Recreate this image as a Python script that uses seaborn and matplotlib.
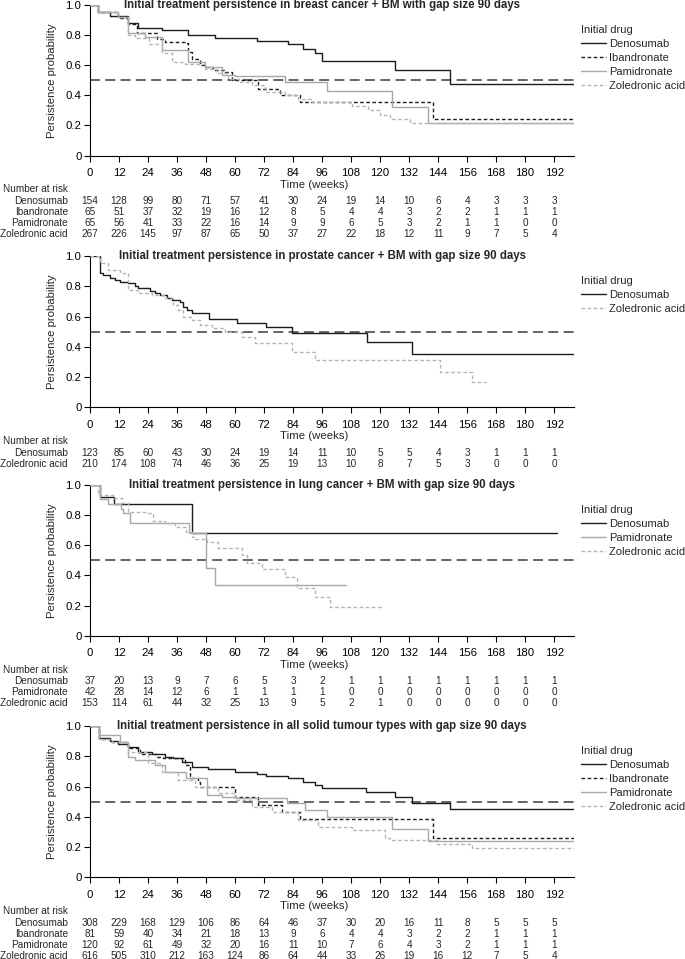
import numpy as np
import pandas as pd
import matplotlib
matplotlib.use("Agg")
import matplotlib.pyplot as plt
from matplotlib.lines import Line2D
from matplotlib.transforms import blended_transform_factory
import seaborn as sns

# ---- data ----
week_ticks = list(range(0, 193, 12))
x_end = 200

# breast cancer + BM
breast_deno_t = [0, 3.4, 8.3, 15.8, 20, 29.6, 40.7, 51.7, 68.9, 82, 88.2, 93, 95.8, 126, 149, 200]
breast_deno_s = [1.0, 0.955, 0.93, 0.878, 0.845, 0.833, 0.80, 0.778, 0.762, 0.738, 0.71, 0.678, 0.629, 0.571, 0.478, 0.478]
breast_iban_t = [0, 3.4, 11.7, 15.8, 19.3, 27.6, 31, 39.3, 40.7, 42, 45.5, 47.6, 51, 55.8, 58.6, 69.6, 78.6, 86.8, 142, 200]
breast_iban_s = [1.0, 0.956, 0.911, 0.873, 0.811, 0.771, 0.756, 0.749, 0.689, 0.644, 0.60, 0.589, 0.567, 0.556, 0.50, 0.444, 0.40, 0.356, 0.244, 0.244]
breast_pami_t = [0, 3.4, 11.7, 15.8, 22.7, 29.6, 40.7, 47.6, 54.5, 60, 80.6, 97.9, 124.8, 140, 200]
breast_pami_s = [1.0, 0.956, 0.92, 0.811, 0.789, 0.704, 0.622, 0.589, 0.533, 0.527, 0.489, 0.429, 0.322, 0.216, 0.216]
breast_zole_t = [0, 3.4, 11.7, 15.8, 18.6, 24.3, 29.6, 33.8, 39.3, 47.6, 52, 57.2, 62, 66.9, 72.4, 80.6, 86, 91.7, 108.2, 115, 120, 124, 132.3, 200]
breast_zole_s = [1.0, 0.956, 0.92, 0.80, 0.778, 0.744, 0.678, 0.622, 0.611, 0.578, 0.545, 0.511, 0.49, 0.467, 0.422, 0.40, 0.375, 0.356, 0.33, 0.30, 0.27, 0.24, 0.216, 0.216]

# prostate cancer + BM
prost_deno_t = [0, 4.1, 5.5, 8.3, 10.3, 12.4, 15.8, 18.6, 20, 24.8, 26.9, 29, 31.7, 34, 37.2, 38.6, 40, 42, 49.2, 60.7, 73, 83.4, 114.4, 133, 200]
prost_deno_s = [1.0, 0.885, 0.874, 0.857, 0.84, 0.83, 0.82, 0.80, 0.786, 0.769, 0.753, 0.742, 0.725, 0.709, 0.694, 0.665, 0.643, 0.621, 0.584, 0.555, 0.529, 0.489, 0.43, 0.35, 0.35]
prost_zole_t = [0, 4.1, 7.6, 12.4, 15.8, 20, 25.5, 31, 34.5, 36.5, 38.6, 42, 45.5, 50.3, 55.8, 62.7, 68.2, 83.4, 93, 144.7, 158, 164]
prost_zole_s = [1.0, 0.952, 0.907, 0.885, 0.775, 0.753, 0.742, 0.72, 0.676, 0.643, 0.599, 0.577, 0.544, 0.522, 0.496, 0.467, 0.423, 0.368, 0.312, 0.235, 0.165, 0.165]

# lung cancer + BM
lung_deno_t = [0, 4.1, 10, 42, 193]
lung_deno_s = [1.0, 0.922, 0.874, 0.679, 0.679]
lung_pami_t = [0, 4.1, 7.6, 12.8, 13.8, 16.5, 40.9, 47.8, 51.9, 106]
lung_pami_s = [1.0, 0.905, 0.874, 0.838, 0.812, 0.75, 0.68, 0.451, 0.336, 0.336]
lung_zole_t = [0, 3.4, 9.6, 13.1, 15.8, 23.4, 26.2, 31, 35.2, 39.9, 42, 43.4, 48.2, 53, 62.7, 64.8, 71, 80.6, 85.5, 93, 99.3, 121]
lung_zole_s = [1.0, 0.934, 0.912, 0.883, 0.823, 0.812, 0.763, 0.746, 0.723, 0.69, 0.657, 0.639, 0.624, 0.58, 0.535, 0.48, 0.44, 0.392, 0.314, 0.259, 0.192, 0.192]

# all solid tumour types
all_deno_t = [0, 3.7, 8.3, 11.7, 15.8, 20, 25.5, 31, 34.5, 37.9, 42, 48.9, 59.9, 68.9, 73, 82, 88.2, 93, 95.8, 114, 126, 133, 149, 200]
all_deno_s = [1.0, 0.923, 0.90, 0.879, 0.859, 0.826, 0.813, 0.797, 0.786, 0.764, 0.731, 0.714, 0.694, 0.681, 0.672, 0.654, 0.632, 0.61, 0.588, 0.562, 0.533, 0.493, 0.449, 0.449]
all_iban_t = [0, 3.7, 8.9, 15.8, 20.7, 27.6, 30.3, 39.3, 41.4, 44.8, 45.5, 59.9, 69.6, 79.3, 86.8, 142, 200]
all_iban_s = [1.0, 0.914, 0.892, 0.852, 0.813, 0.797, 0.786, 0.742, 0.654, 0.632, 0.599, 0.533, 0.478, 0.434, 0.385, 0.258, 0.258]
all_pami_t = [0, 3.7, 12.5, 15.8, 18.6, 26.9, 31, 39.9, 48.2, 54.5, 60.7, 81.3, 89, 98, 125, 140, 200]
all_pami_s = [1.0, 0.94, 0.896, 0.797, 0.775, 0.742, 0.698, 0.654, 0.544, 0.533, 0.526, 0.489, 0.445, 0.40, 0.319, 0.242, 0.242]
all_zole_t = [0, 3.7, 8.9, 15.8, 24.1, 29.6, 36.5, 43.4, 53, 59.9, 66.9, 75.1, 86.2, 94.4, 108.2, 122, 124, 143.4, 158, 200]
all_zole_s = [1.0, 0.914, 0.896, 0.83, 0.753, 0.698, 0.643, 0.60, 0.555, 0.511, 0.467, 0.434, 0.379, 0.335, 0.313, 0.262, 0.247, 0.218, 0.196, 0.196]

# numbers at risk (at 0, 12, ..., 192 weeks)
breast_risk_deno = [154, 128, 99, 80, 71, 57, 41, 30, 24, 19, 14, 10, 6, 4, 3, 3, 3]
breast_risk_iban = [65, 51, 37, 32, 19, 16, 12, 8, 5, 4, 4, 3, 2, 2, 1, 1, 1]
breast_risk_pami = [65, 56, 41, 33, 22, 16, 14, 9, 9, 6, 5, 3, 2, 1, 1, 0, 0]
breast_risk_zole = [267, 226, 145, 97, 87, 65, 50, 37, 27, 22, 18, 12, 11, 9, 7, 5, 4]
prost_risk_deno = [123, 85, 60, 43, 30, 24, 19, 14, 11, 10, 5, 5, 4, 3, 1, 1, 1]
prost_risk_zole = [210, 174, 108, 74, 46, 36, 25, 19, 13, 10, 8, 7, 5, 3, 0, 0, 0]
lung_risk_deno = [37, 20, 13, 9, 7, 6, 5, 3, 2, 1, 1, 1, 1, 1, 1, 1, 1]
lung_risk_pami = [42, 28, 14, 12, 6, 1, 1, 1, 1, 0, 0, 0, 0, 0, 0, 0, 0]
lung_risk_zole = [153, 114, 61, 44, 32, 25, 13, 9, 5, 2, 1, 0, 0, 0, 0, 0, 0]
all_risk_deno = [308, 229, 168, 129, 106, 86, 64, 46, 37, 30, 20, 16, 11, 8, 5, 5, 5]
all_risk_iban = [81, 59, 40, 34, 21, 18, 13, 9, 6, 4, 4, 3, 2, 2, 1, 1, 1]
all_risk_pami = [120, 92, 61, 49, 32, 20, 16, 11, 10, 7, 6, 4, 3, 2, 1, 1, 1]
all_risk_zole = [616, 505, 310, 212, 163, 124, 86, 64, 44, 33, 26, 19, 16, 12, 7, 5, 4]

titles = [
    "Initial treatment persistence in breast cancer + BM with gap size 90 days",
    "Initial treatment persistence in prostate cancer + BM with gap size 90 days",
    "Initial treatment persistence in lung cancer + BM with gap size 90 days",
    "Initial treatment persistence in all solid tumour types with gap size 90 days",
]

panels = [
    dict(title=titles[0], top=5, bottom=155.5,
         curves=[("Denosumab", breast_deno_t, breast_deno_s),
                 ("Ibandronate", breast_iban_t, breast_iban_s),
                 ("Pamidronate", breast_pami_t, breast_pami_s),
                 ("Zoledronic acid", breast_zole_t, breast_zole_s)],
         risk=[("Denosumab", breast_risk_deno), ("Ibandronate", breast_risk_iban),
               ("Pamidronate", breast_risk_pami), ("Zoledronic acid", breast_risk_zole)]),
    dict(title=titles[1], top=256, bottom=407.3,
         curves=[("Denosumab", prost_deno_t, prost_deno_s),
                 ("Zoledronic acid", prost_zole_t, prost_zole_s)],
         risk=[("Denosumab", prost_risk_deno), ("Zoledronic acid", prost_risk_zole)]),
    dict(title=titles[2], top=485, bottom=635.7,
         curves=[("Denosumab", lung_deno_t, lung_deno_s),
                 ("Pamidronate", lung_pami_t, lung_pami_s),
                 ("Zoledronic acid", lung_zole_t, lung_zole_s)],
         risk=[("Denosumab", lung_risk_deno), ("Pamidronate", lung_risk_pami),
               ("Zoledronic acid", lung_risk_zole)]),
    dict(title=titles[3], top=726, bottom=877.3,
         curves=[("Denosumab", all_deno_t, all_deno_s),
                 ("Ibandronate", all_iban_t, all_iban_s),
                 ("Pamidronate", all_pami_t, all_pami_s),
                 ("Zoledronic acid", all_zole_t, all_zole_s)],
         risk=[("Denosumab", all_risk_deno), ("Ibandronate", all_risk_iban),
               ("Pamidronate", all_risk_pami), ("Zoledronic acid", all_risk_zole)]),
]

# styles per drug
colors = {"Denosumab": "#1c1c1c", "Ibandronate": "#1c1c1c",
          "Pamidronate": "#a8a8a8", "Zoledronic acid": "#b4b4b4"}
dashes = {"Denosumab": "", "Ibandronate": (2.6, 1.8),
          "Pamidronate": "", "Zoledronic acid": (2.6, 1.8)}

sns.set_style("ticks")
plt.rcParams["font.family"] = ["Liberation Sans", "DejaVu Sans"]

W, H = 685, 959
fig = plt.figure(figsize=(W / 100, H / 100), dpi=100)

ax_left, ax_right = 90, 573.5

for p in panels:
    ax = fig.add_axes([ax_left / W, 1 - p["bottom"] / H,
                       (ax_right - ax_left) / W, (p["bottom"] - p["top"]) / H])
    hpx = p["bottom"] - p["top"]
    rows = []
    for drug, t, s in p["curves"]:
        rows.append(pd.DataFrame({"week": t, "surv": s, "drug": drug}))
    df = pd.concat(rows, ignore_index=True)
    drugs = [c[0] for c in p["curves"]]

    # median reference line
    ax.axhline(0.5, color="#3a3a3a", lw=1.1, dashes=(6.5, 3.5), zorder=1)
    sns.lineplot(data=df, x="week", y="surv", hue="drug", style="drug",
                 hue_order=drugs, style_order=drugs,
                 palette={d: colors[d] for d in drugs},
                 dashes={d: dashes[d] for d in drugs},
                 estimator=None, sort=False, drawstyle="steps-post",
                 linewidth=1.0, legend=False, ax=ax, zorder=3)

    ax.set_xlim(0, x_end)
    ax.set_ylim(0, 1.0)
    ax.set_xticks(week_ticks)
    ax.set_yticks([0, 0.2, 0.4, 0.6, 0.8, 1.0])
    ax.set_yticklabels(["0", "0.2", "0.4", "0.6", "0.8", "1.0"])
    ax.tick_params(axis="both", length=4, width=0.8, labelsize=8.2, color="black",
                   labelcolor="black")
    ax.tick_params(axis="x", pad=5.0)
    ax.tick_params(axis="y", pad=2.2)
    sns.despine(ax=ax)
    for sp in ("left", "bottom"):
        ax.spines[sp].set_linewidth(0.8)
        ax.spines[sp].set_color("black")

    ax.set_ylabel("Persistence probability", fontsize=8.2)
    ax.yaxis.set_label_coords((52 - ax_left) / (ax_right - ax_left), 0.5)
    ax.yaxis.label.set_va("center")
    ax.set_xlabel("Time (weeks)", fontsize=8.2)
    ax.xaxis.set_label_coords(0.464, -29 / hpx)
    ax.xaxis.label.set_va("center")

    ax.text(96, 1.0, p["title"], ha="center", va="center", fontsize=8.3,
            fontweight="bold", clip_on=False, zorder=5)

    # legend
    handles = [Line2D([0], [0], color=colors[d], lw=1.0,
                      linestyle=(0, dashes[d]) if dashes[d] else "-") for d in drugs]
    leg = ax.legend(handles, drugs, title="Initial drug", loc="upper left",
                    bbox_to_anchor=(1.0145, 0.87), frameon=False, fontsize=8.0,
                    title_fontsize=8.0, borderpad=0, borderaxespad=0,
                    labelspacing=0.36, handlelength=2.25, handletextpad=0.3)
    leg._legend_box.align = "left"

    # number at risk table
    tr = blended_transform_factory(ax.transData, ax.transAxes)
    ax.text((3 - ax_left) / (ax_right - ax_left), -34 / hpx, "Number at risk",
            transform=ax.transAxes, ha="left", va="center", fontsize=7.2)
    for i, (drug, vals) in enumerate(p["risk"]):
        yy = -(45.5 + 11 * i) / hpx
        ax.text((68 - ax_left) / (ax_right - ax_left), yy, drug, transform=ax.transAxes,
                ha="right", va="center", fontsize=7.2)
        for wk, v in zip(week_ticks, vals):
            ax.text(wk, yy, str(v), transform=tr, ha="center", va="center", fontsize=7.2)

fig.savefig("out.png", dpi=100)
